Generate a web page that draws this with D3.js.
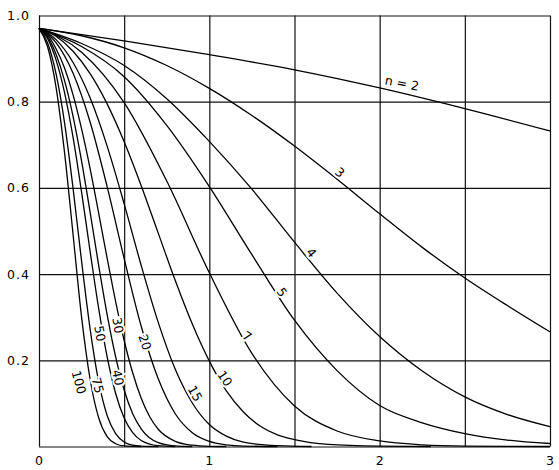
<!DOCTYPE html>
<html>
<head>
<meta charset="utf-8">
<script src="https://cdnjs.cloudflare.com/ajax/libs/d3/7.8.5/d3.min.js"></script>
<style>
body{margin:0;background:#fff;}
svg{display:block;}
.grid line{stroke:#111;stroke-width:1.2px;}
.grid path{display:none;}
.grid text{font-family:"DejaVu Sans",sans-serif;font-size:12.5px;fill:#000;letter-spacing:1px;}
.curve{fill:none;stroke:#000;stroke-width:1.3px;}
.lab{font-family:"DejaVu Sans",sans-serif;font-size:12.5px;fill:#000;stroke:#fff;stroke-width:4px;paint-order:stroke;}
</style>
</head>
<body>
<svg id="chart" width="559" height="470"></svg>
<script>
/******************** data : beta vs d, one curve per n ********************/
var sampleSizes = [2, 3, 4, 5, 7, 10, 15, 20, 30, 40, 50, 75, 100];
var curveLabels = ["n = 2", "3", "4", "5", "7", "10", "15", "20", "30", "40", "50", "75", "100"];

var curveN2 = [[0,0.97],[0.5,0.941],[1,0.909],[1.5,0.874],[2,0.832],[2.5,0.784],[3,0.732]];
var curveN3 = [[0,0.97],[0.25,0.953],[0.5,0.925],[0.75,0.884],[1,0.831],[1.25,0.768],[1.5,0.697],[1.75,0.62],[2,0.54],[2.25,0.462],[2.5,0.391],[2.75,0.327],[3,0.266]];
var curveN4 = [[0,0.97],[0.25,0.935],[0.5,0.884],[0.75,0.807],[1,0.708],[1.25,0.597],[1.5,0.474],[1.75,0.356],[2,0.255],[2.25,0.175],[2.5,0.115],[2.75,0.074],[3,0.046]];
var curveN5 = [[0,0.97],[0.25,0.928],[0.5,0.858],[0.75,0.745],[1,0.603],[1.25,0.445],[1.5,0.293],[1.75,0.176],[2,0.095],[2.25,0.055],[2.5,0.03],[2.75,0.015],[3,0.007]];
var curveN7 = [[0,0.97],[0.25,0.915],[0.5,0.798],[0.75,0.616],[1,0.403],[1.25,0.216],[1.5,0.094],[1.75,0.036],[2,0.013],[2.25,0.004],[2.5,0.001],[3,0]];
var curveN10 = [[0,0.97],[0.1,0.952],[0.2,0.917],[0.3,0.865],[0.4,0.795],[0.5,0.707],[0.6,0.605],[0.7,0.495],[0.8,0.385],[0.9,0.284],[1,0.198],[1.1,0.129],[1.2,0.08],[1.3,0.047],[1.4,0.027],[1.5,0.016],[1.7,0.005],[2,0.001],[2.3,0]];
var curveN15 = [[0,0.97],[0.1,0.944],[0.2,0.891],[0.3,0.809],[0.4,0.697],[0.5,0.563],[0.6,0.42],[0.7,0.288],[0.8,0.179],[0.9,0.101],[1,0.051],[1.1,0.024],[1.2,0.01],[1.4,0.002],[1.6,0]];
var curveN20 = [[0,0.97],[0.1,0.937],[0.2,0.866],[0.3,0.753],[0.4,0.603],[0.5,0.436],[0.6,0.279],[0.7,0.157],[0.8,0.076],[0.9,0.032],[1,0.012],[1.1,0.004],[1.2,0.001],[1.4,0]];
var curveN30 = [[0,0.97],[0.05,0.955],[0.1,0.923],[0.15,0.878],[0.2,0.816],[0.25,0.737],[0.3,0.645],[0.35,0.542],[0.4,0.437],[0.45,0.336],[0.5,0.246],[0.55,0.171],[0.6,0.112],[0.65,0.069],[0.7,0.04],[0.8,0.012],[0.9,0.003],[1,0.0005],[1.1,0]];
var curveN40 = [[0,0.97],[0.05,0.951],[0.1,0.91],[0.15,0.849],[0.2,0.766],[0.25,0.662],[0.3,0.544],[0.35,0.421],[0.4,0.306],[0.45,0.208],[0.5,0.131],[0.55,0.076],[0.6,0.041],[0.7,0.009],[0.8,0.0015],[0.9,0]];
var curveN50 = [[0,0.97],[0.05,0.947],[0.1,0.897],[0.15,0.821],[0.2,0.717],[0.25,0.59],[0.3,0.453],[0.35,0.321],[0.4,0.208],[0.45,0.123],[0.5,0.066],[0.55,0.032],[0.6,0.014],[0.7,0.002],[0.8,0]];
var curveN75 = [[0,0.97],[0.05,0.937],[0.1,0.865],[0.15,0.751],[0.2,0.599],[0.25,0.43],[0.3,0.273],[0.35,0.151],[0.4,0.072],[0.45,0.03],[0.5,0.0104],[0.55,0.003],[0.6,0.001],[0.7,0]];
var curveN100 = [[0,0.97],[0.05,0.928],[0.1,0.834],[0.15,0.682],[0.2,0.492],[0.25,0.3],[0.3,0.156],[0.35,0.067],[0.4,0.023],[0.45,0.0064],[0.5,0.0014],[0.6,0]];

var xGrid = [0, 0.5, 1, 1.5, 2, 2.5, 3];
var xTickLabels = [0, 1, 2, 3];
var yGrid = [0, 0.2, 0.4, 0.6, 0.8, 1.0];
var yTickLabels = [0.2, 0.4, 0.6, 0.8, 1.0];

/******************** layout ********************/
var curves = [curveN2, curveN3, curveN4, curveN5, curveN7, curveN10, curveN15, curveN20,
              curveN30, curveN40, curveN50, curveN75, curveN100];
// label centre in data units + rotation (deg)
var labelPlace = [
  {d:2.131, b:0.843, r:11}, {d:1.767, b:0.636, r:40}, {d:1.600, b:0.450, r:50},
  {d:1.427, b:0.358, r:55}, {d:1.221, b:0.256, r:35}, {d:1.092, b:0.158, r:55},
  {d:0.916, b:0.123, r:60}, {d:0.622, b:0.242, r:72}, {d:0.464, b:0.281, r:80},
  {d:0.464, b:0.160, r:78}, {d:0.358, b:0.262, r:80}, {d:0.346, b:0.142, r:75},
  {d:0.235, b:0.149, r:75}
];

var mLeft = 39, mRight = 550, mTop = 15.5, mBottom = 446.5;
var svg = d3.select("#chart");
var x = d3.scaleLinear().domain([0, 3]).range([mLeft, mRight]);
var y = d3.scaleLinear().domain([0, 1]).range([mBottom, mTop]);

// vertical grid + x labels
svg.append("g").attr("class", "grid")
  .attr("transform", "translate(0," + mBottom + ")")
  .call(d3.axisBottom(x).tickValues(xGrid).tickSize(-(mBottom - mTop)).tickPadding(10)
    .tickFormat(function(d){ return xTickLabels.indexOf(d) >= 0 ? d3.format("d")(d) : ""; }));

// horizontal grid + y labels
var ga = svg.append("g").attr("class", "grid")
  .attr("transform", "translate(" + mLeft + ",0)")
  .call(d3.axisLeft(y).tickValues(yGrid).tickSize(-(mRight - mLeft))
    .tickFormat(function(d){ return yTickLabels.indexOf(d) >= 0 ? d3.format(".1f")(d) : ""; }));
ga.selectAll("text").attr("text-anchor", "start").attr("x", 7 - mLeft);

// curves
var line = d3.line()
  .x(function(p){ return x(p[0]); })
  .y(function(p){ return y(p[1]); })
  .curve(d3.curveMonotoneX);

svg.append("g").selectAll("path").data(curves).enter()
  .append("path").attr("class", "curve").attr("d", line);

// curve labels
svg.append("g").selectAll("text").data(labelPlace).enter()
  .append("text").attr("class", "lab")
  .attr("text-anchor", "middle").attr("dominant-baseline", "central")
  .attr("transform", function(p){ return "translate(" + x(p.d) + "," + y(p.b) + ") rotate(" + p.r + ")"; })
  .text(function(p, i){ return curveLabels[i]; });
</script>
</body>
</html>
